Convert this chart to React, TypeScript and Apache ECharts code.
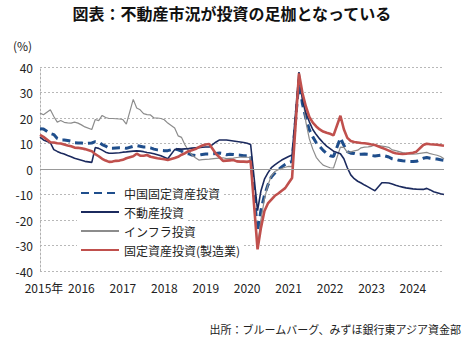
import React, { useEffect, useRef } from "react";
import * as echarts from "echarts";

const FONT = "'Noto Sans CJK JP', 'Noto Sans', sans-serif";

// Monthly categories: 2014-11 .. 2024-08 (January has no separate release -> null)
const START_YEAR = 2014;
const START_MONTH = 11;
const N_MONTHS = 118;
const categories: string[] = [];
for (let i = 0; i < N_MONTHS; i++) {
  const m = START_MONTH - 1 + i;
  const y = START_YEAR + Math.floor(m / 12);
  const mm = (m % 12) + 1;
  categories.push(`${y}-${mm < 10 ? "0" + mm : mm}`);
}

const yearLabels = ["2015年", "2016", "2017", "2018", "2019", "2020", "2021", "2022", "2023", "2024"];
const yTicks = { min: -40, max: 40, interval: 10 };

const seriesNames = ["中国固定資産投資", "不動産投資", "インフラ投資", "固定資産投資(製造業)"];

// 中国固定資産投資 (YTD, %)
const fai = [
  15.8, 15.7,
  null, 13.9, 13.5, 12.0, 11.4, 11.4, 11.2, 10.9, 10.3, 10.2, 10.2, 10.0,
  null, 10.2, 10.7, 10.5, 9.6, 9.0, 8.1, 8.1, 8.2, 8.3, 8.3, 8.1,
  null, 8.9, 9.2, 8.9, 8.6, 8.6, 8.3, 7.8, 7.5, 7.3, 7.2, 7.2,
  null, 7.9, 7.5, 7.0, 6.1, 6.0, 5.5, 5.3, 5.4, 5.7, 5.9, 5.9,
  null, 6.1, 6.3, 6.1, 5.6, 5.8, 5.7, 5.5, 5.4, 5.2, 5.2, 5.4,
  null, -24.5, -16.1, -10.3, -6.3, -3.1, -1.6, -0.3, 0.8, 1.8, 2.6, 2.9,
  null, 35.0, 25.6, 19.9, 15.4, 12.6, 10.3, 8.9, 7.3, 6.1, 5.2, 4.9,
  null, 12.2, 9.3, 6.8, 6.2, 6.1, 5.7, 5.8, 5.9, 5.8, 5.3, 5.1,
  null, 5.5, 5.1, 4.7, 4.0, 3.8, 3.4, 3.2, 3.1, 2.9, 2.9, 3.0,
  null, 4.2, 4.5, 4.2, 4.0, 3.9, 3.6, 3.4,
];

// 不動産投資
const realEstate = [
  12.5, 11.4,
  null, 10.3, 7.6, 6.9, 6.3, 5.9, 5.3, 4.8, 4.2, 3.8, 3.4, 3.0,
  null, 2.6, 8.4, 8.1, 7.4, 6.6, 6.2, 6.2, 6.3, 6.4, 6.6, 6.7,
  null, 7.0, 7.1, 7.0, 6.8, 6.5, 6.3, 6.0, 5.6, 5.2, 4.6, 4.0,
  null, 7.6, 7.9, 7.8, 7.9, 8.0, 8.2, 8.3, 8.4, 8.5, 8.6, 8.6,
  null, 10.6, 11.4, 11.4, 11.4, 11.2, 11.0, 10.8, 10.6, 10.4, 10.1, 9.6,
  null, -16.3, -8.5, -4.0, -1.5, 0.5, 1.6, 2.6, 3.5, 4.2, 4.9, 5.5,
  null, 38.0, 27.0, 22.0, 18.5, 15.5, 13.5, 11.8, 10.3, 9.0, 8.0, 7.0,
  null, 6.0, 4.0, 0.5, -2.3, -3.8, -4.8, -5.5, -6.3, -7.0, -7.8, -8.5,
  null, -5.4, -5.4, -5.5, -5.9, -6.4, -6.8, -7.1, -7.4, -7.6, -7.8, -7.9,
  null, -8.0, -7.6, -8.2, -8.9, -9.3, -9.7, -10.0,
];

// インフラ投資
const infra = [
  21.9, 21.3,
  null, 23.2, 20.6, 18.4, 19.0, 18.3, 18.1, 18.0, 18.4, 18.0, 17.3, 16.5,
  null, 15.5, 19.4, 19.0, 21.0, 20.2, 19.8, 19.8, 19.7, 19.6, 19.4, 17.6,
  null, 27.3, 23.9, 23.2, 21.7, 21.3, 21.2, 20.0, 20.0, 19.8, 19.3, 18.0,
  null, 16.1, 13.0, 12.4, 9.4, 7.3, 5.5, 4.4, 3.5, 3.7, 3.8, 3.9,
  null, 4.2, 4.3, 4.4, 4.1, 4.2, 4.3, 4.5, 4.6, 4.7, 4.6, 4.5,
  null, -30.3, -19.7, -11.8, -6.3, -2.7, -1.0, -0.3, 0.2, 0.7, 1.0, 0.9,
  null, 36.6, 29.7, 18.4, 11.8, 7.8, 4.6, 2.9, 1.5, 1.0, 0.5, 0.4,
  null, 8.6, 8.5, 6.5, 6.7, 7.1, 7.4, 8.3, 8.6, 8.7, 8.9, 9.4,
  null, 9.0, 8.8, 8.5, 7.5, 7.2, 6.8, 6.4, 6.2, 5.9, 5.8, 5.9,
  null, 6.3, 6.5, 6.0, 5.7, 5.4, 4.9, 4.0,
];

// 固定資産投資(製造業)
const manufacturing = [
  13.4, 12.6,
  null, 10.5, 10.4, 10.1, 10.0, 9.6, 9.2, 8.9, 8.4, 8.3, 8.1, 7.8,
  null, 7.0, 5.8, 5.0, 4.0, 3.3, 2.8, 2.9, 3.2, 3.3, 3.6, 4.2,
  null, 5.0, 6.0, 5.2, 5.2, 5.5, 4.8, 4.5, 4.2, 4.0, 3.8, 3.5,
  null, 4.3, 4.8, 5.6, 6.2, 7.0, 7.4, 7.8, 8.6, 9.2, 9.6, 9.8,
  null, 5.9, 4.6, 3.2, 3.3, 3.4, 3.5, 3.0, 2.9, 2.9, 2.8, 3.1,
  null, -31.5, -23.0, -16.5, -13.5, -12.0, -10.5, -9.6, -8.5, -7.5, -5.5, -3.5,
  null, 37.5, 29.8, 24.5, 20.4, 18.2, 16.7, 15.5, 14.7, 14.2, 13.8, 13.2,
  null, 20.9, 15.6, 12.2, 11.0, 10.6, 10.4, 10.2, 10.1, 9.9, 9.6, 9.4,
  null, 8.3, 7.8, 7.2, 6.6, 6.2, 6.0, 5.9, 6.0, 6.2, 6.4, 6.8,
  null, 9.4, 9.9, 9.7, 9.6, 9.5, 9.3, 9.1,
];

const COLORS = ["#1f4e8c", "#1b2a5e", "#8c8c8c", "#c0504d"];

export default function App() {
  const ref = useRef<HTMLDivElement>(null);

  useEffect(() => {
    if (!ref.current) return;
    const chart = echarts.init(ref.current, null, { renderer: "svg" });

    const legendRows = [194, 213, 232, 251];

    const option: any = {
      animation: false,
      backgroundColor: "#ffffff",
      textStyle: { fontFamily: FONT },
      grid: { left: 40, right: 21, top: 67, bottom: 69 },
      xAxis: {
        type: "category",
        data: categories,
        boundaryGap: false,
        axisLine: { show: false },
        axisTick: { show: false },
        splitLine: { show: false },
        axisLabel: {
          interval: 11,
          margin: 10,
          fontSize: 12,
          color: "#222",
          fontFamily: FONT,
          formatter: (_v: string, idx: number) => {
            const k = Math.round(idx / 12);
            if (k === 0) return "{a|" + yearLabels[0] + "}";
            return yearLabels[k] ?? "";
          },
          rich: {
            a: { padding: [0, 0, 0, 8], fontSize: 12, color: "#222", fontFamily: FONT },
          },
        },
      },
      yAxis: {
        type: "value",
        min: yTicks.min,
        max: yTicks.max,
        interval: yTicks.interval,
        axisLine: { show: true, lineStyle: { color: "#b0b0b0", type: [2, 2], width: 1 } },
        axisTick: { show: false },
        splitLine: { show: true, lineStyle: { color: "#b8b8b8", type: [2, 2], width: 1 } },
        axisLabel: { margin: 7, fontSize: 12, color: "#222", fontFamily: FONT },
      },
      legend: seriesNames.map((n, i) => ({
        data: [n],
        orient: "vertical",
        left: 77,
        top: legendRows[i] - 10,
        itemWidth: 38,
        itemHeight: 12,
        itemGap: 0,
        padding: [3, 3, 3, 3],
        backgroundColor: "#ffffff",
        selectedMode: false,
        itemStyle: { opacity: 0, color: "transparent", borderColor: "transparent", borderWidth: 0 },
        textStyle: { fontSize: 12, color: "#222", fontFamily: FONT },
      })),
      series: [
        {
          name: seriesNames[0],
          type: "line",
          data: fai,
          connectNulls: true,
          symbol: "none",
          itemStyle: { color: COLORS[0] },
          lineStyle: { color: COLORS[0], width: 3, type: [8, 5] },
          markLine: {
            silent: true,
            symbol: "none",
            label: { show: false },
            lineStyle: { color: "#999", type: "solid", width: 1.2 },
            data: [{ yAxis: 0 }],
          },
          z: 2,
        },
        {
          name: seriesNames[1],
          type: "line",
          data: realEstate,
          connectNulls: true,
          symbol: "none",
          itemStyle: { color: COLORS[1] },
          lineStyle: { color: COLORS[1], width: 1.6 },
          z: 3,
        },
        {
          name: seriesNames[2],
          type: "line",
          data: infra,
          connectNulls: true,
          symbol: "none",
          itemStyle: { color: COLORS[2] },
          lineStyle: { color: COLORS[2], width: 1.2 },
          z: 2,
        },
        {
          name: seriesNames[3],
          type: "line",
          data: manufacturing,
          connectNulls: true,
          symbol: "none",
          itemStyle: { color: COLORS[3] },
          lineStyle: { color: COLORS[3], width: 2.6 },
          z: 4,
        },
      ],
      graphic: [
        {
          type: "text",
          left: "center",
          top: 5,
          style: {
            text: "図表：不動産市況が投資の足枷となっている",
            fontSize: 16,
            fontWeight: "bold",
            fill: "#111",
            fontFamily: FONT,
          },
        },
        {
          type: "text",
          x: 13,
          y: 45,
          style: {
            text: "(%)",
            fontSize: 12,
            fill: "#222",
            fontFamily: FONT,
            textVerticalAlign: "middle",
          },
        },
        {
          type: "text",
          x: 461,
          y: 329,
          style: {
            text: "出所：ブルームバーグ、みずほ銀行東アジア資金部",
            fontSize: 11,
            fill: "#222",
            fontFamily: FONT,
            textAlign: "right",
            textVerticalAlign: "middle",
          },
        },
      ],
    };

    chart.setOption(option);
    return () => chart.dispose();
  }, []);

  return (
    <div
      ref={ref}
      style={{ position: "fixed", left: 0, top: 0, width: 465, height: 340, background: "#fff" }}
    />
  );
}
